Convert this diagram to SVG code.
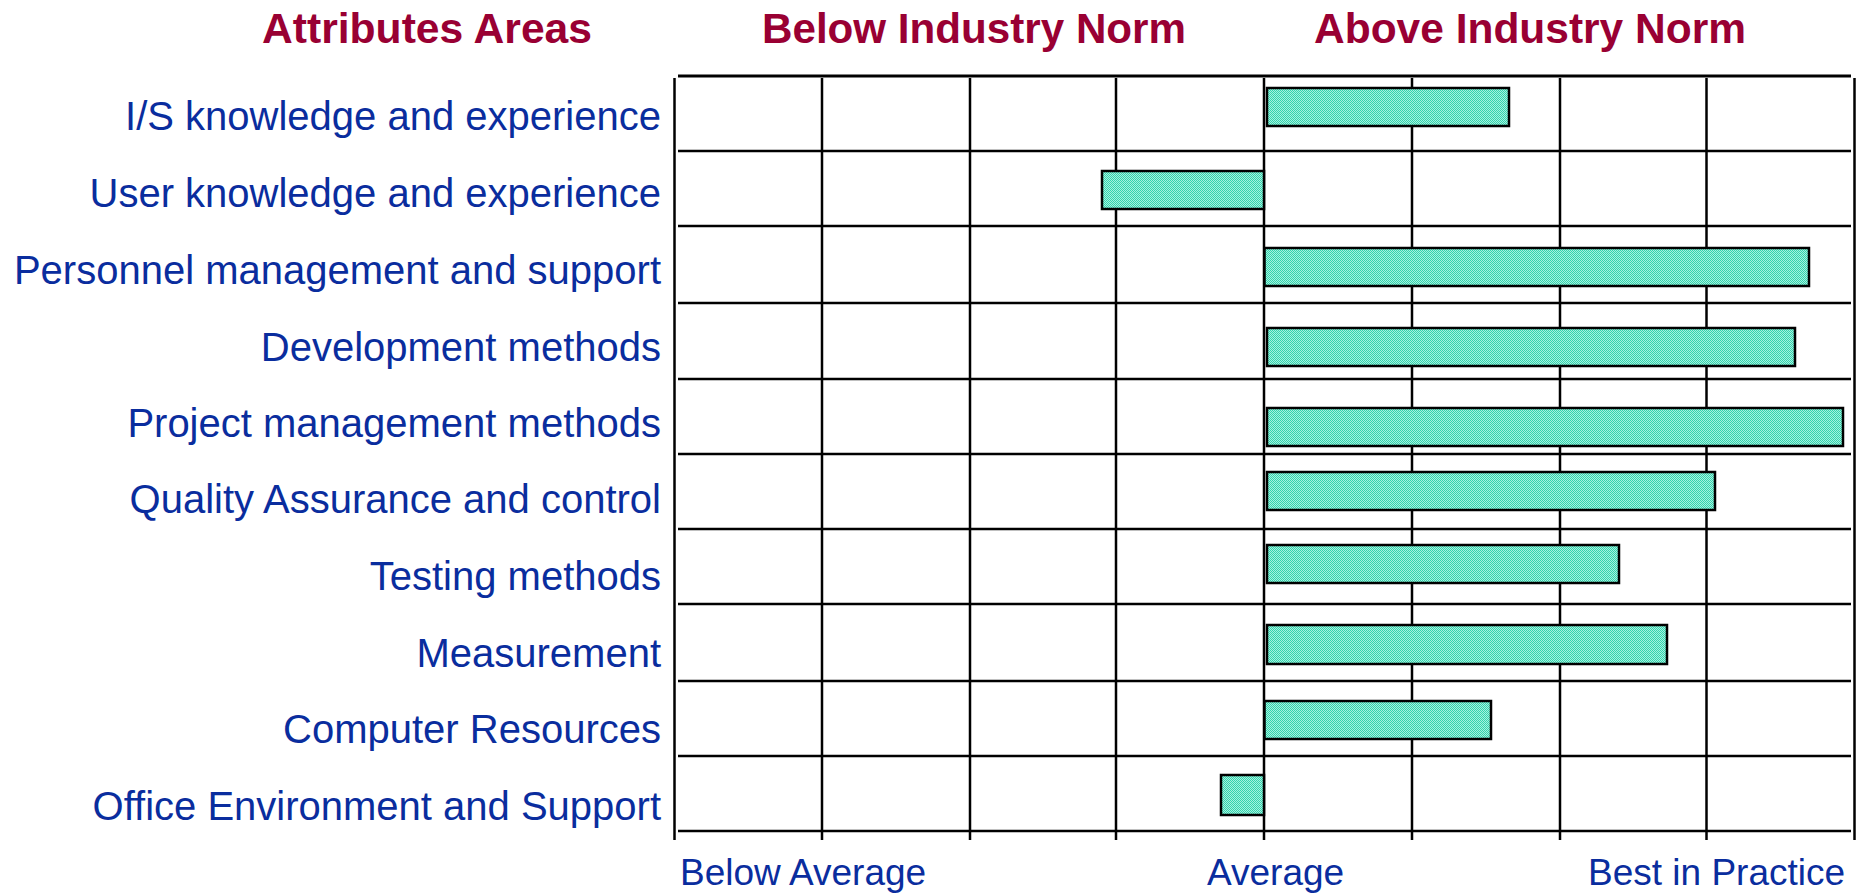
<svg xmlns="http://www.w3.org/2000/svg" width="1859" height="894" viewBox="0 0 1859 894">
<defs>
<pattern id="dots" width="2" height="2" patternUnits="userSpaceOnUse">
<rect width="2" height="2" fill="#a6f2df"/>
<rect x="0" y="0" width="1" height="1" fill="#33d3ad"/>
<rect x="1" y="1" width="1" height="1" fill="#33d3ad"/>
</pattern>
</defs>
<style>
.hdr{font-family:"Liberation Sans",Arial,sans-serif;font-weight:bold;font-size:42px;fill:#990033}
.lbl{font-family:"Liberation Sans",Arial,sans-serif;font-size:40px;fill:#0a2d9e;text-anchor:end}
.axl{font-family:"Liberation Sans",Arial,sans-serif;font-size:37px;fill:#0a2d9e}
.grid line{stroke:#000;stroke-width:2.5}
.bar{fill:url(#dots);stroke:#000;stroke-width:2.5}
</style>
<rect width="1859" height="894" fill="#fff"/>
<g id="headers">
<text class="hdr" x="262" y="43" textLength="330" lengthAdjust="spacingAndGlyphs">Attributes Areas</text>
<text class="hdr" x="762" y="43" textLength="424" lengthAdjust="spacingAndGlyphs">Below Industry Norm</text>
<text class="hdr" x="1314" y="43" textLength="432" lengthAdjust="spacingAndGlyphs">Above Industry Norm</text>
</g>
<g id="grid" class="grid">
<line x1="678" y1="76" x2="1851" y2="76" style="stroke-width:3"/>
<line x1="678" y1="151" x2="1851" y2="151"/>
<line x1="678" y1="226" x2="1851" y2="226"/>
<line x1="678" y1="303" x2="1851" y2="303"/>
<line x1="678" y1="379" x2="1851" y2="379"/>
<line x1="678" y1="454" x2="1851" y2="454"/>
<line x1="678" y1="529" x2="1851" y2="529"/>
<line x1="678" y1="604" x2="1851" y2="604"/>
<line x1="678" y1="681" x2="1851" y2="681"/>
<line x1="678" y1="756" x2="1851" y2="756"/>
<line x1="678" y1="831" x2="1851" y2="831"/>
<line x1="674.5" y1="78" x2="674.5" y2="840"/>
<line x1="822" y1="78" x2="822" y2="840"/>
<line x1="970" y1="78" x2="970" y2="840"/>
<line x1="1116" y1="78" x2="1116" y2="840"/>
<line x1="1264" y1="78" x2="1264" y2="840"/>
<line x1="1412" y1="78" x2="1412" y2="840"/>
<line x1="1560" y1="78" x2="1560" y2="840"/>
<line x1="1706.5" y1="78" x2="1706.5" y2="840"/>
<line x1="1854.5" y1="78" x2="1854.5" y2="840"/>
</g>
<g id="bars">
<rect id="bar-is" class="bar" x="1267" y="88" width="242" height="38"/>
<rect id="bar-user" class="bar" x="1102" y="171" width="162" height="38"/>
<rect id="bar-personnel" class="bar" x="1264.5" y="248" width="544.5" height="38"/>
<rect id="bar-development" class="bar" x="1267" y="328" width="528" height="38"/>
<rect id="bar-project" class="bar" x="1267" y="408" width="576" height="38"/>
<rect id="bar-quality" class="bar" x="1267" y="472" width="448" height="38"/>
<rect id="bar-testing" class="bar" x="1267" y="545" width="352" height="38"/>
<rect id="bar-measurement" class="bar" x="1267" y="625" width="400" height="39"/>
<rect id="bar-computer" class="bar" x="1264.5" y="701" width="226.5" height="38"/>
<rect id="bar-office" class="bar" x="1221" y="775" width="43" height="40"/>
</g>
<g id="labels">
<text class="lbl" x="661" y="130">I/S knowledge and experience</text>
<text class="lbl" x="661" y="207">User knowledge and experience</text>
<text class="lbl" x="661" y="284">Personnel management and support</text>
<text class="lbl" x="661" y="361">Development methods</text>
<text class="lbl" x="661" y="437">Project management methods</text>
<text class="lbl" x="661" y="513">Quality Assurance and control</text>
<text class="lbl" x="661" y="590">Testing methods</text>
<text class="lbl" x="661" y="667">Measurement</text>
<text class="lbl" x="661" y="743">Computer Resources</text>
<text class="lbl" x="661" y="820">Office Environment and Support</text>
</g>
<g id="axis-labels">
<text class="axl" x="680" y="885">Below Average</text>
<text class="axl" x="1207" y="885">Average</text>
<text class="axl" x="1588" y="885">Best in Practice</text>
</g>
</svg>
